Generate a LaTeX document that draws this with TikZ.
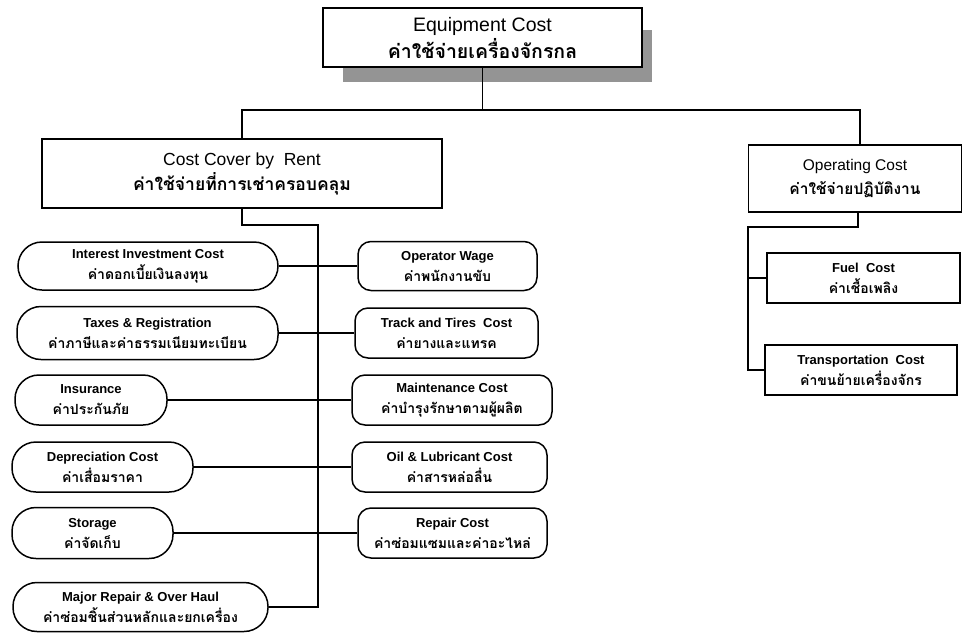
\documentclass[tikz,border=0pt]{standalone}
\usepackage{fontspec}
\setmainfont{Liberation Sans}
\newfontfamily\thai[Script=Thai]{Loma}
\begin{document}
\begin{tikzpicture}[x=1pt,y=-1pt,
  box/.style={draw=black,line width=1.5pt,fill=white,align=center,inner sep=0pt},
  bigbox/.style={box,font=\fontsize{19.5}{27}\selectfont},
  midbox/.style={box,font=\fontsize{15.5}{24}\selectfont},
  sqbox/.style={box,font=\bfseries\fontsize{13}{21}\selectfont},
  pill/.style={box,rounded corners=24pt,font=\bfseries\fontsize{13}{21}\selectfont},
  rbox/.style={box,rounded corners=13pt,font=\bfseries\fontsize{13}{21}\selectfont},
  conn/.style={draw=black,line width=1.1pt}]
\useasboundingbox[fill=white] (0,0) rectangle (964,633);
% shadow
\fill[black!42] (343,30) rectangle (652,82);
% top box
\node[bigbox,minimum width=319pt,minimum height=59pt] (top) at (482.5,37.5)
  {Equipment Cost\\{\thai\bfseries ค่าใช้จ่ายเครื่องจักรกล}};
\node[bigbox,minimum width=400pt,minimum height=69pt,font=\fontsize{17.5}{25}\selectfont] (rent) at (242,173.5)
  {Cost Cover by\ \ Rent\\{\thai\bfseries ค่าใช้จ่ายที่การเช่าครอบคลุม}};
\node[midbox,minimum width=213pt,minimum height=67pt] (oper) at (855,178.5)
  {Operating Cost\\{\thai\bfseries ค่าใช้จ่ายปฏิบัติงาน}};
\node[sqbox,minimum width=193pt,minimum height=50pt] (fuel) at (863.5,278)
  {Fuel\ \ Cost\\{\thai\fontsize{14}{21}\selectfont ค่าเชื้อเพลิง}};
\node[sqbox,minimum width=192pt,minimum height=50pt] (trans) at (861,370)
  {Transportation\ \ Cost\\{\thai\fontsize{14}{21}\selectfont ค่าขนย้ายเครื่องจักร}};
% left pills
\node[pill,minimum width=260pt,minimum height=48pt] (l1) at (148,266)
  {Interest Investment Cost\\{\thai\fontsize{14}{21}\selectfont ค่าดอกเบี้ยเงินลงทุน}};
\node[pill,minimum width=261pt,minimum height=53pt] (l2) at (147.5,333)
  {Taxes \& Registration\\{\thai\fontsize{14}{21}\selectfont ค่าภาษีและค่าธรรมเนียมทะเบียน}};
\node[pill,minimum width=152pt,minimum height=50pt] (l3) at (91,400)
  {Insurance\\{\thai\fontsize{14}{21}\selectfont ค่าประกันภัย}};
\node[pill,minimum width=181pt,minimum height=50pt] (l4) at (102.5,467)
  {Depreciation Cost\\{\thai\fontsize{14}{21}\selectfont ค่าเสื่อมราคา}};
\node[pill,minimum width=161pt,minimum height=51pt] (l5) at (92.5,533)
  {Storage\\{\thai\fontsize{14}{21}\selectfont ค่าจัดเก็บ}};
\node[pill,minimum width=255pt,minimum height=49pt] (l6) at (140.5,607)
  {Major Repair \& Over Haul\\{\thai\fontsize{14}{21}\selectfont ค่าซ่อมชิ้นส่วนหลักและยกเครื่อง}};
% right rounded boxes
\node[rbox,minimum width=179pt,minimum height=49pt] (r1) at (447.5,266)
  {Operator Wage\\{\thai\fontsize{14}{21}\selectfont ค่าพนักงานขับ}};
\node[rbox,minimum width=183pt,minimum height=50pt] (r2) at (446.5,333)
  {Track and Tires\ \ Cost\\{\thai\fontsize{14}{21}\selectfont ค่ายางและแทรค}};
\node[rbox,minimum width=200pt,minimum height=50pt] (r3) at (452,400)
  {Maintenance Cost\\{\thai\fontsize{14}{21}\selectfont ค่าบำรุงรักษาตามผู้ผลิต}};
\node[rbox,minimum width=195pt,minimum height=50pt] (r4) at (449.5,467)
  {Oil \& Lubricant Cost\\{\thai\fontsize{14}{21}\selectfont ค่าสารหล่อลื่น}};
\node[rbox,minimum width=189pt,minimum height=50pt] (r5) at (452.5,533)
  {Repair Cost\\{\thai\fontsize{14}{21}\selectfont ค่าซ่อมแซมและค่าอะไหล่}};
% connectors
\coordinate (jr) at (860,110);
\coordinate (rb1) at (242,225);
\coordinate (rb2) at (318,225);
\coordinate (ob1) at (858,227);
\coordinate (ob2) at (748,227);
\draw[conn] (top.south) -- (top.south |- jr);
\draw[conn] (rent.north) |- (jr) -- (jr |- oper.north);
\draw[conn] (rent.south) -- (rb1) -- (rb2) |- (l6.east);
\foreach \i in {1,...,5}{\draw[conn] (l\i.east) -- (r\i.west);}
\draw[conn] (oper.south -| ob1) -- (ob1) -- (ob2) |- (trans.west);
\draw[conn] (ob2 |- fuel.west) -- (fuel.west);
\end{tikzpicture}
\end{document}
